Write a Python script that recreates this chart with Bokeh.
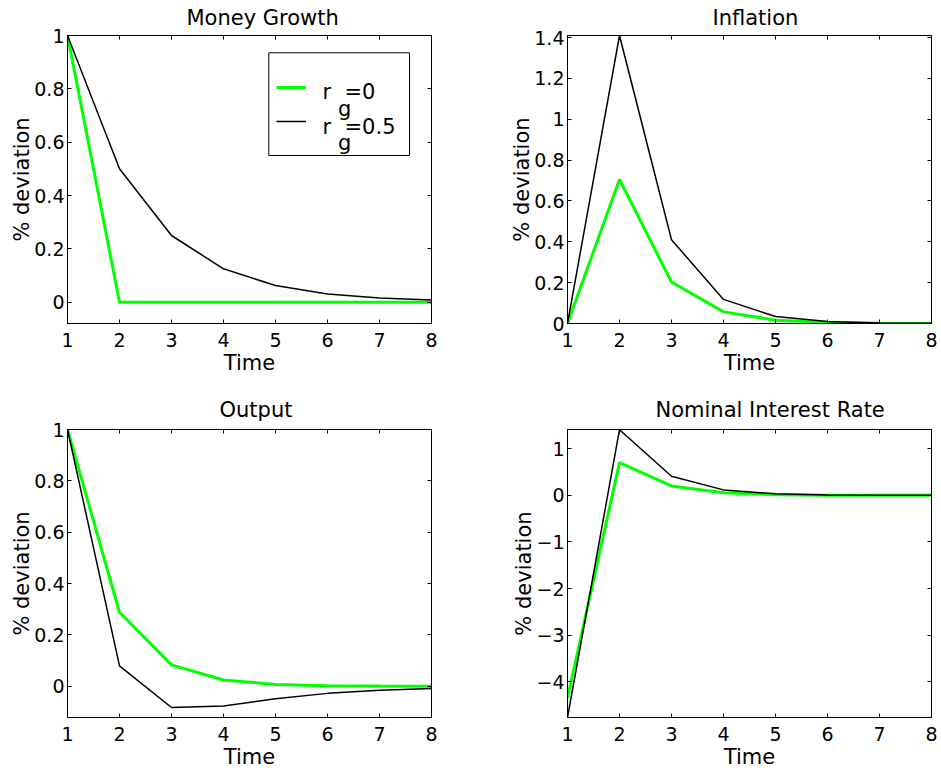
from bokeh.plotting import figure
from bokeh.models import (Range1d, FixedTicker, LinearAxis, CustomJSTickFormatter,
                          Legend, LegendItem, BoxAnnotation, Label)
from bokeh.layouts import gridplot
from bokeh.embed import file_html
from bokeh.resources import INLINE

# ---------------- data ----------------
time = [1, 2, 3, 4, 5, 6, 7, 8]

money_g0 = [1.0, 0.0, 0.0, 0.0, 0.0, 0.0, 0.0, 0.0]
money_g05 = [1.0, 0.5, 0.25, 0.125, 0.0625, 0.031, 0.016, 0.008]

infl_g0 = [0.0, 0.705, 0.203, 0.057, 0.016, 0.005, 0.0015, 0.0004]
infl_g05 = [0.0, 1.41, 0.41, 0.118, 0.034, 0.01, 0.003, 0.001]

output_g0 = [1.0, 0.288, 0.083, 0.024, 0.007, 0.002, 0.0006, 0.0002]
output_g05 = [1.0, 0.079, -0.083, -0.077, -0.049, -0.028, -0.016, -0.009]

rate_g0 = [-4.35, 0.705, 0.203, 0.057, 0.016, 0.005, 0.0015, 0.0004]
rate_g05 = [-4.77, 1.41, 0.41, 0.118, 0.034, 0.01, 0.003, 0.001]

titles = ["Money Growth", "Inflation", "Output", "Nominal Interest Rate"]
x_ticks = [1, 2, 3, 4, 5, 6, 7, 8]
yticks_money = [0, 0.2, 0.4, 0.6, 0.8, 1]
yticks_infl = [0, 0.2, 0.4, 0.6, 0.8, 1, 1.2, 1.4]
yticks_output = [0, 0.2, 0.4, 0.6, 0.8, 1]
yticks_rate = [-4, -3, -2, -1, 0, 1]
yr_money = (-0.08, 1.0)
yr_infl = (0.0, 1.41)
yr_output = (-0.122, 1.0)
yr_rate = (-4.77, 1.415)
legend_labels = [("r", "g", "=0"), ("r", "g", "=0.5")]

# ---------------- style ----------------
FONT = "DejaVu Sans"
GREEN = "#00ff00"
FW, FH = 364, 288
title_left = [119, 145, 152, 88]     # px from frame left edge to title start

fmt_code = "return String(tick).replace('-', '\u2212')"


def make_fig(title, tleft, tstand, tvalign, yr, yticks, bl, br, bt, bb):
    p = figure(frame_width=FW, frame_height=FH,
               x_range=Range1d(1, 8), y_range=Range1d(*yr),
               output_backend="svg", toolbar_location=None, title=title,
               min_border_left=bl, min_border_right=br,
               min_border_top=bt, min_border_bottom=bb)
    p.title.align = "left"
    p.title.offset = tleft
    p.title.standoff = tstand
    p.title.vertical_align = tvalign
    p.title.text_font = FONT
    p.title.text_font_size = "21px"
    p.title.text_font_style = "normal"
    p.title.text_color = "black"
    p.grid.visible = False
    p.outline_line_color = "black"
    p.outline_line_alpha = 1.0
    p.outline_line_width = 1
    p.background_fill_color = "white"
    p.border_fill_color = "white"

    for ax, ticks in ((p.xaxis[0], x_ticks), (p.yaxis[0], yticks)):
        ax.ticker = FixedTicker(ticks=ticks)
        ax.formatter = CustomJSTickFormatter(code=fmt_code)
        ax.major_tick_in = 4
        ax.major_tick_out = 0
        ax.minor_tick_line_color = None
        ax.axis_line_color = "black"
        ax.major_tick_line_color = "black"
        ax.major_label_text_font = FONT
        ax.major_label_text_font_size = "19px"
        ax.major_label_text_color = "black"
        ax.axis_label_text_font = FONT
        ax.axis_label_text_font_size = "21px"
        ax.axis_label_text_font_style = "normal"
        ax.axis_label_text_color = "black"
    p.xaxis[0].major_label_standoff = 9
    p.xaxis[0].axis_label_standoff = 1
    p.yaxis[0].major_label_standoff = 3
    p.yaxis[0].axis_label_standoff = -3
    p.xaxis[0].axis_label = "Time"
    p.yaxis[0].axis_label = "% deviation"

    # mirrored tick marks on top and right (box on)
    for side, ticks in (("above", x_ticks), ("right", yticks)):
        ax = LinearAxis(ticker=FixedTicker(ticks=ticks),
                        formatter=CustomJSTickFormatter(code="return ''"),
                        major_tick_in=4, major_tick_out=0,
                        minor_tick_line_color=None,
                        major_label_standoff=0,
                        major_label_text_font_size="1px",
                        axis_line_color="black", major_tick_line_color="black")
        p.add_layout(ax, side)
    return p


p1 = make_fig(titles[0], title_left[0], 7, "top", yr_money, yticks_money, 67, 36, 35, 56)
p2 = make_fig(titles[1], title_left[1], 7, "top", yr_infl, yticks_infl, 100, 8, 35, 56)
p3 = make_fig(titles[2], title_left[2], 16, "bottom", yr_output, yticks_output, 67, 36, 50, 48)
p4 = make_fig(titles[3], title_left[3], 16, "bottom", yr_rate, yticks_rate, 100, 8, 50, 48)

series = [(p1, money_g0, money_g05), (p2, infl_g0, infl_g05),
          (p3, output_g0, output_g05), (p4, rate_g0, rate_g05)]
renderers = []
for p, g0, g05 in series:
    rg = p.line(time, g0, line_color=GREEN, line_width=3)
    rb = p.line(time, g05, line_color="black", line_width=1.5)
    renderers.append((rg, rb))

# ---------------- legend (top-left panel) ----------------
def px_x(off):
    return 1 + off * (8 - 1) / FW


def px_y(off):
    return yr_money[1] - off * (yr_money[1] - yr_money[0]) / FH


box = BoxAnnotation(left=px_x(201.3), right=px_x(342), top=px_y(17.3), bottom=px_y(120),
                    fill_color="white", fill_alpha=1.0,
                    line_color="black", line_width=1, line_alpha=1.0)
p1.add_layout(box)

legend = Legend(items=[LegendItem(label=" ", renderers=[renderers[0][0]]),
                       LegendItem(label=" ", renderers=[renderers[0][1]])],
                location=(209, 185), padding=0, margin=0, spacing=0,
                glyph_width=30, glyph_height=34, label_height=34, label_width=0,
                label_standoff=0, label_text_font_size="1px",
                border_line_color=None, background_fill_alpha=0.0)
p1.add_layout(legend, "center")

base_offsets = [56.7, 91.0]
for (r_txt, g_txt, eq_txt), base in zip(legend_labels, base_offsets):
    for txt, xo, yo in ((r_txt, 255, base), (g_txt, 270.5, base + 16.5), (eq_txt, 277, base)):
        p1.add_layout(Label(x=px_x(xo), y=px_y(yo), text=txt,
                            text_font=FONT, text_font_size="21px",
                            text_color="black", text_baseline="alphabetic",
                            text_align="left"))

grid = gridplot([[p1, p2], [p3, p4]], toolbar_location=None)

open("out.html", "w").write(file_html(grid, INLINE))
